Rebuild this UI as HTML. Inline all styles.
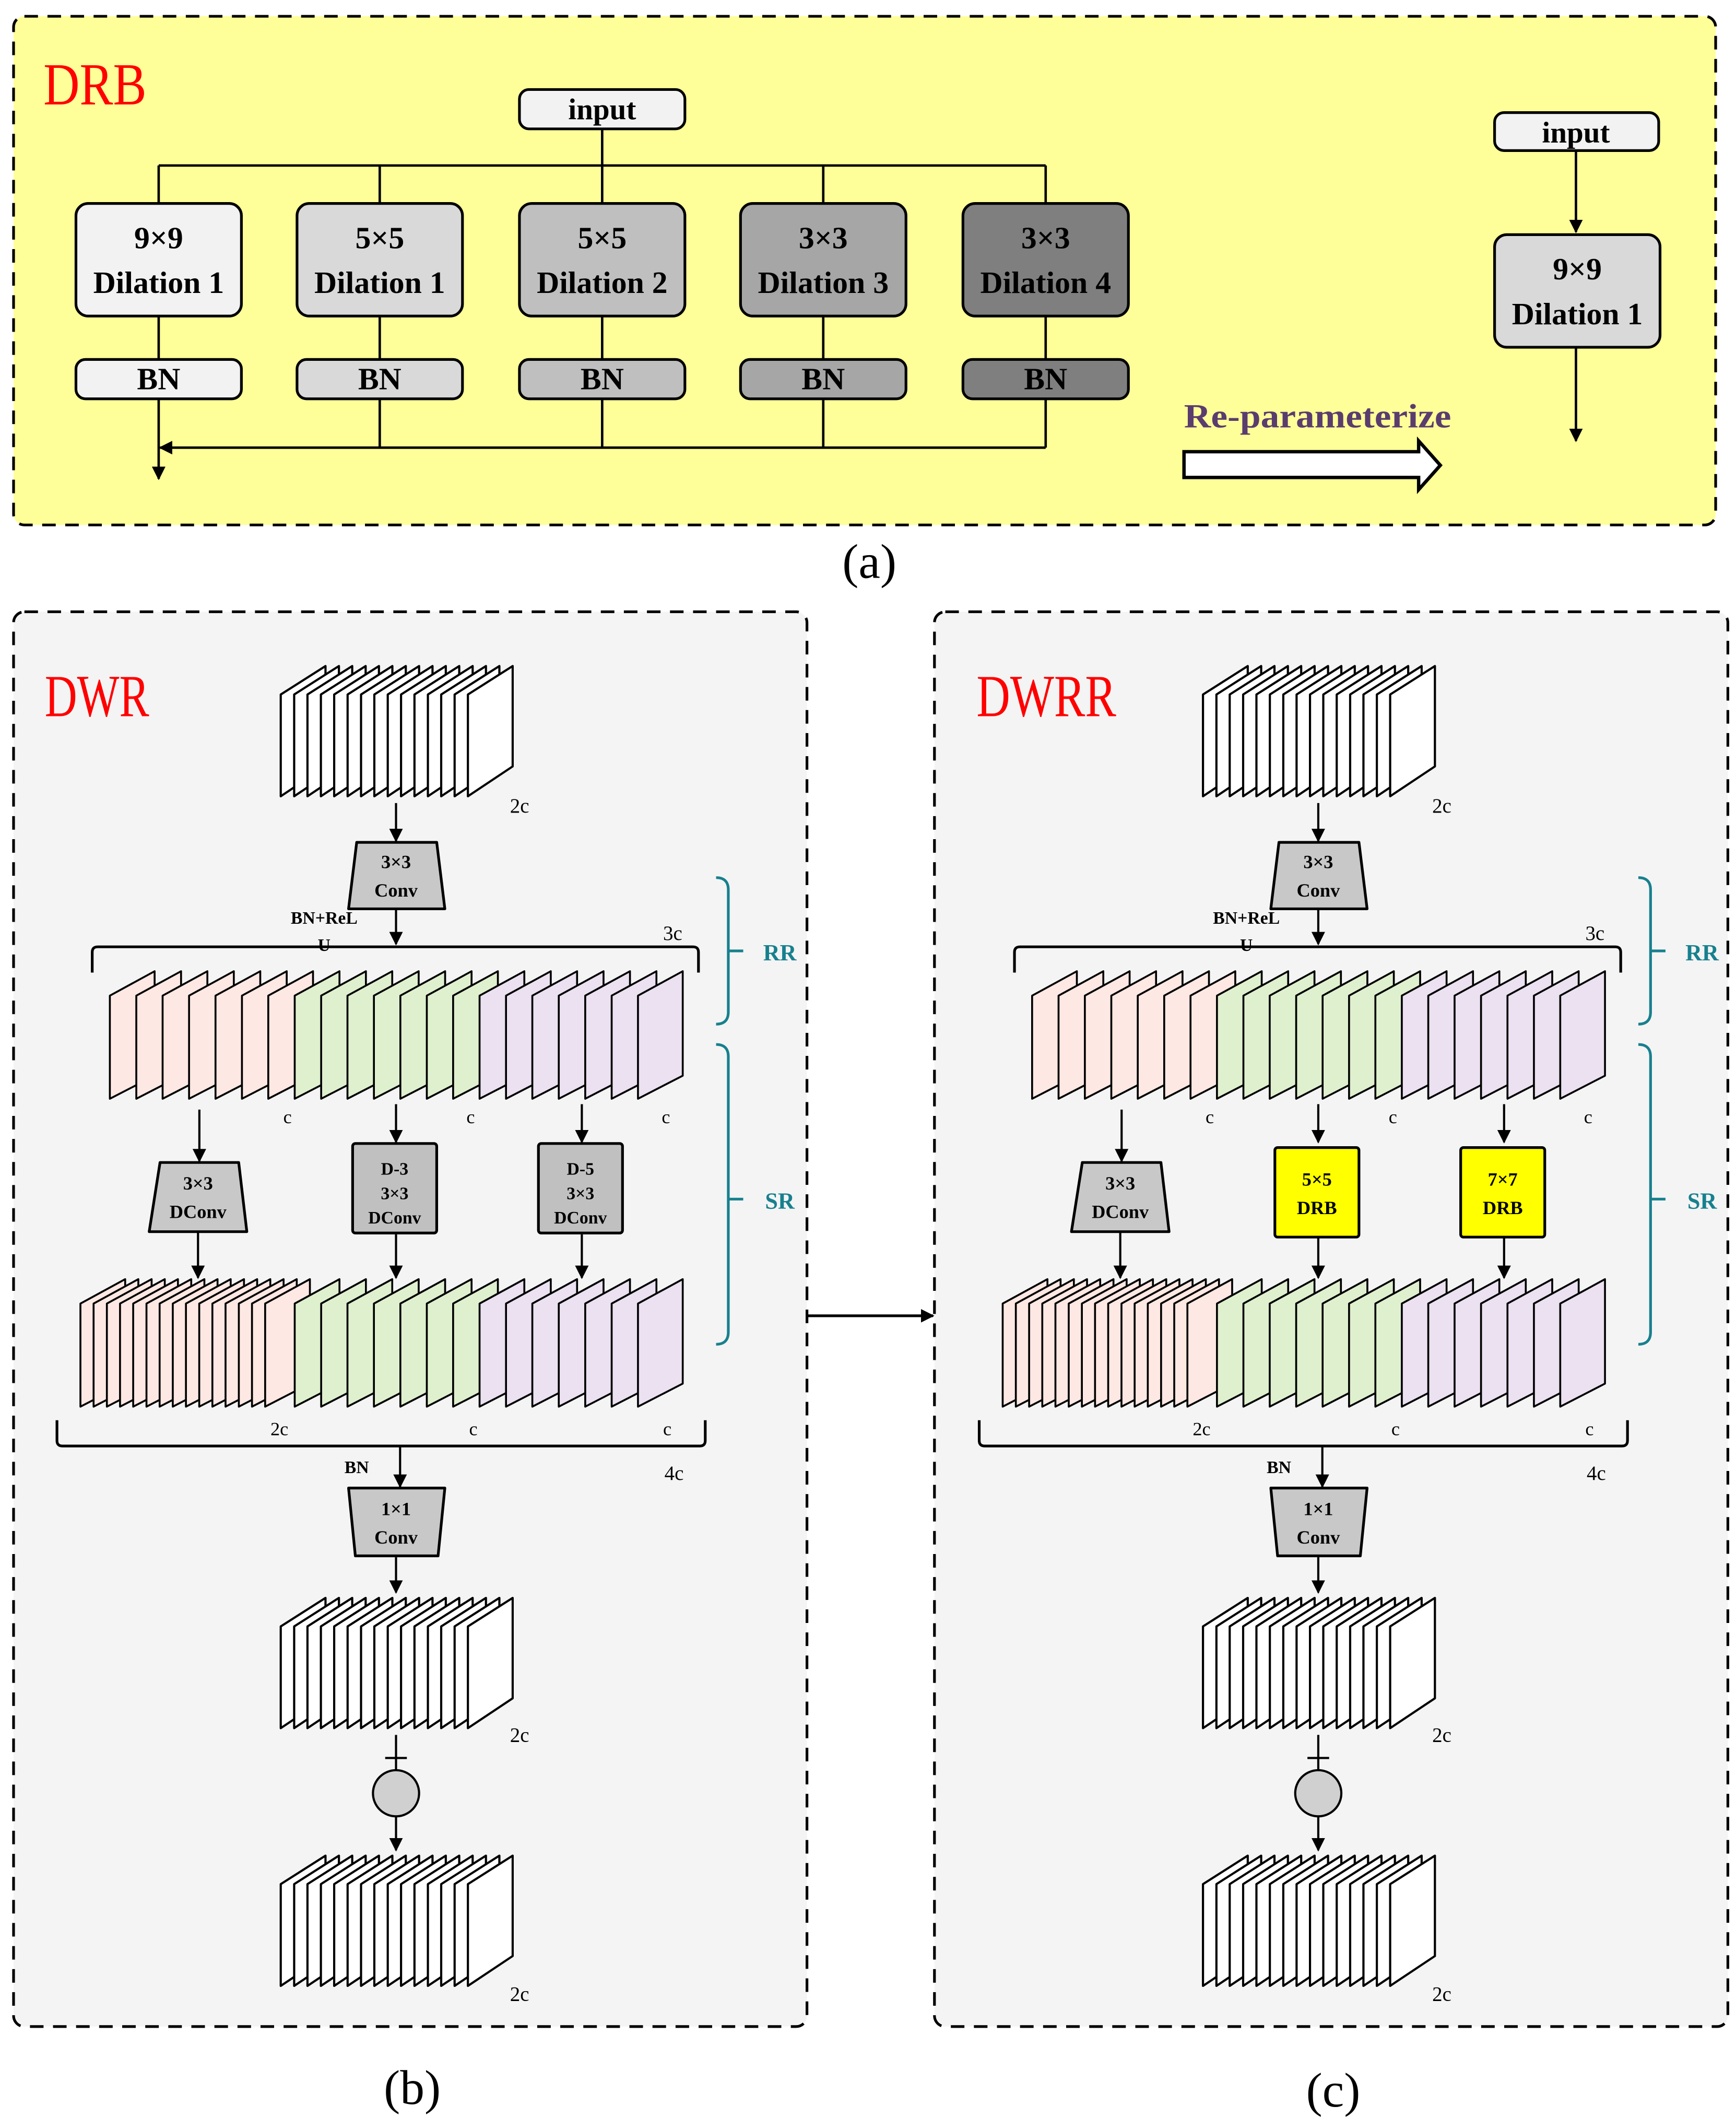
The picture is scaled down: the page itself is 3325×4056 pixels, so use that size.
<!DOCTYPE html>
<html><head><meta charset="utf-8"><style>
html,body{margin:0;padding:0;background:#fff;}
svg{display:block;}
text{font-family:"Liberation Serif",serif;}
</style></head><body>
<svg width="3325" height="4056" viewBox="0 0 1280 1561.4" xmlns="http://www.w3.org/2000/svg">
<defs>
<marker id="ah" markerUnits="userSpaceOnUse" markerWidth="10" markerHeight="12" refX="9" refY="5" orient="auto" viewBox="0 0 10 10">
<path d="M0,0 L10,5 L0,10 Z" fill="#000"/></marker>
<path id="ws" d="M0,0 V-75 L33,-96 V-22 Z" fill="#fff" stroke="#000" stroke-width="1.6" stroke-linejoin="round"/>
<path id="pk" d="M0,0 V-76 L33,-94 V-17 Z" fill="#fde8e3" stroke="#000" stroke-width="1.4" stroke-linejoin="round"/>
<path id="gr" d="M0,0 V-76 L33,-94 V-17 Z" fill="#dff0cf" stroke="#000" stroke-width="1.4" stroke-linejoin="round"/>
<path id="pu" d="M0,0 V-76 L33,-94 V-17 Z" fill="#ebe1f1" stroke="#000" stroke-width="1.4" stroke-linejoin="round"/>
<g id="wstack">
<use href="#ws" x="207"/><use href="#ws" x="216.9"/><use href="#ws" x="226.7"/><use href="#ws" x="236.6"/><use href="#ws" x="246.4"/><use href="#ws" x="256.3"/><use href="#ws" x="266.2"/><use href="#ws" x="276"/><use href="#ws" x="285.9"/><use href="#ws" x="295.7"/><use href="#ws" x="305.6"/><use href="#ws" x="315.5"/><use href="#ws" x="325.3"/><use href="#ws" x="335.2"/><use href="#ws" x="345"/>
</g>
<g id="common">
<use href="#wstack" y="587"/>
<text x="376" y="599" font-size="15">2c</text>
<line x1="292" y1="592" x2="292" y2="620" stroke="#000" stroke-width="1.6" marker-end="url(#ah)"/>
<path d="M263,621 H322 L328,670 H257 Z" fill="#c8c8c8" stroke="#000" stroke-width="2" stroke-linejoin="round"/>
<text x="292" y="640" font-size="14" font-weight="bold" text-anchor="middle">3×3</text>
<text x="292" y="661" font-size="14" font-weight="bold" text-anchor="middle">Conv</text>
<text x="239" y="681" font-size="13" font-weight="bold" text-anchor="middle">BN+ReL</text>
<text x="239" y="701" font-size="13" font-weight="bold" text-anchor="middle">U</text>
<line x1="292" y1="670" x2="292" y2="696" stroke="#000" stroke-width="1.6" marker-end="url(#ah)"/>
<path d="M68,717 V702 Q68,698 72,698 H511 Q515,698 515,702 V717" fill="none" stroke="#000" stroke-width="2"/>
<text x="496" y="693" font-size="15" text-anchor="middle">3c</text>
<!-- top colored row -->
<g transform="translate(0,810)">
<use href="#pk" x="81"/><use href="#pk" x="100.5"/><use href="#pk" x="119.9"/><use href="#pk" x="139.4"/><use href="#pk" x="158.9"/><use href="#pk" x="178.4"/><use href="#pk" x="197.8"/>
<use href="#gr" x="217.3"/><use href="#gr" x="236.8"/><use href="#gr" x="256.2"/><use href="#gr" x="275.7"/><use href="#gr" x="295.2"/><use href="#gr" x="314.7"/><use href="#gr" x="334.1"/>
<use href="#pu" x="353.6"/><use href="#pu" x="373.1"/><use href="#pu" x="392.5"/><use href="#pu" x="412"/><use href="#pu" x="431.5"/><use href="#pu" x="451"/><use href="#pu" x="470.4"/>
</g>
<text x="212" y="828" font-size="14" text-anchor="middle">c</text>
<text x="347" y="828" font-size="14" text-anchor="middle">c</text>
<text x="491" y="828" font-size="14" text-anchor="middle">c</text>
<line x1="147" y1="818" x2="147" y2="856" stroke="#000" stroke-width="1.6" marker-end="url(#ah)"/>
<line x1="146" y1="908" x2="146" y2="942" stroke="#000" stroke-width="1.6" marker-end="url(#ah)"/>
<line x1="292" y1="814" x2="292" y2="842" stroke="#000" stroke-width="1.6" marker-end="url(#ah)"/>
<line x1="292" y1="910" x2="292" y2="942" stroke="#000" stroke-width="1.6" marker-end="url(#ah)"/>
<line x1="429" y1="814" x2="429" y2="842" stroke="#000" stroke-width="1.6" marker-end="url(#ah)"/>
<line x1="429" y1="910" x2="429" y2="942" stroke="#000" stroke-width="1.6" marker-end="url(#ah)"/>
<!-- bottom colored row -->
<g transform="translate(0,1037)">
<use href="#pk" x="59.3"/><use href="#pk" x="69"/><use href="#pk" x="78.8"/><use href="#pk" x="88.5"/><use href="#pk" x="98.2"/><use href="#pk" x="108"/><use href="#pk" x="117.7"/><use href="#pk" x="127.4"/><use href="#pk" x="137.1"/><use href="#pk" x="146.9"/><use href="#pk" x="156.6"/><use href="#pk" x="166.3"/><use href="#pk" x="176.1"/><use href="#pk" x="185.8"/><use href="#pk" x="195.5"/>
<use href="#gr" x="217.3"/><use href="#gr" x="236.8"/><use href="#gr" x="256.2"/><use href="#gr" x="275.7"/><use href="#gr" x="295.2"/><use href="#gr" x="314.7"/><use href="#gr" x="334.1"/>
<use href="#pu" x="353.6"/><use href="#pu" x="373.1"/><use href="#pu" x="392.5"/><use href="#pu" x="412"/><use href="#pu" x="431.5"/><use href="#pu" x="451"/><use href="#pu" x="470.4"/>
</g>
<text x="206" y="1058" font-size="14" text-anchor="middle">2c</text>
<text x="349" y="1058" font-size="14" text-anchor="middle">c</text>
<text x="492" y="1058" font-size="14" text-anchor="middle">c</text>
<path d="M42,1047 V1062 Q42,1066 46,1066 H516 Q520,1066 520,1062 V1047" fill="none" stroke="#000" stroke-width="2"/>
<text x="497" y="1091" font-size="15" text-anchor="middle">4c</text>
<text x="263" y="1086" font-size="13" font-weight="bold" text-anchor="middle">BN</text>
<line x1="295" y1="1066" x2="295" y2="1096" stroke="#000" stroke-width="1.6" marker-end="url(#ah)"/>
<path d="M257,1097 H328 L323,1147 H262 Z" fill="#c8c8c8" stroke="#000" stroke-width="2" stroke-linejoin="round"/>
<text x="292" y="1117" font-size="14" font-weight="bold" text-anchor="middle">1×1</text>
<text x="292" y="1138" font-size="14" font-weight="bold" text-anchor="middle">Conv</text>
<line x1="292" y1="1148" x2="292" y2="1174" stroke="#000" stroke-width="1.6" marker-end="url(#ah)"/>
<use href="#wstack" y="1274"/>
<text x="376" y="1284" font-size="15">2c</text>
<line x1="292" y1="1279" x2="292" y2="1305" stroke="#000" stroke-width="1.6"/>
<line x1="284" y1="1296" x2="300" y2="1296" stroke="#000" stroke-width="1.6"/>
<circle cx="292" cy="1322" r="17" fill="#d0d0d0" stroke="#000" stroke-width="1.6"/>
<line x1="292" y1="1339" x2="292" y2="1364" stroke="#000" stroke-width="1.6" marker-end="url(#ah)"/>
<use href="#wstack" y="1464"/>
<text x="376" y="1475" font-size="15">2c</text>
<!-- teal braces -->
<path d="M528,647 Q537,647 537,656 V746 Q537,755 528,755 M537,701 H548" fill="none" stroke="#17808e" stroke-width="2"/>
<path d="M528,770 Q537,770 537,779 V982 Q537,991 528,991 M537,884 H548" fill="none" stroke="#17808e" stroke-width="2"/>
<text x="575" y="708" font-size="17" font-weight="bold" fill="#17808e" text-anchor="middle">RR</text>
<text x="575" y="891" font-size="17" font-weight="bold" fill="#17808e" text-anchor="middle">SR</text>
<!-- DConv trapezoid -->
<path d="M118,857 H176 L182,908 H110 Z" fill="#c8c8c8" stroke="#000" stroke-width="2" stroke-linejoin="round"/>
<text x="146" y="877" font-size="14" font-weight="bold" text-anchor="middle">3×3</text>
<text x="146" y="898" font-size="14" font-weight="bold" text-anchor="middle">DConv</text>
</g>
</defs>

<!-- panel (a) -->
<rect x="10" y="12" width="1255" height="375" rx="8" fill="#ffff99" stroke="#000" stroke-width="2" stroke-dasharray="10,7"/>
<text x="32" y="77" font-size="44" fill="#ff0000" textLength="76" lengthAdjust="spacingAndGlyphs">DRB</text>
<rect x="383" y="66" width="122" height="29" rx="7" fill="#f2f2f2" stroke="#000" stroke-width="2"/>
<text x="444" y="88" font-size="22" font-weight="bold" text-anchor="middle">input</text>
<g stroke="#000" stroke-width="1.8" fill="none">
<line x1="444" y1="95" x2="444" y2="150"/>
<line x1="117" y1="122" x2="771" y2="122"/>
<line x1="117" y1="122" x2="117" y2="150"/><line x1="280" y1="122" x2="280" y2="150"/><line x1="607" y1="122" x2="607" y2="150"/><line x1="771" y1="122" x2="771" y2="150"/>
<line x1="117" y1="233" x2="117" y2="265"/><line x1="280" y1="233" x2="280" y2="265"/><line x1="444" y1="233" x2="444" y2="265"/><line x1="607" y1="233" x2="607" y2="265"/><line x1="771" y1="233" x2="771" y2="265"/>
<line x1="280" y1="294" x2="280" y2="330"/><line x1="444" y1="294" x2="444" y2="330"/><line x1="607" y1="294" x2="607" y2="330"/><line x1="771" y1="294" x2="771" y2="330"/>
<line x1="771" y1="330" x2="118" y2="330" marker-end="url(#ah)"/>
<line x1="117" y1="294" x2="117" y2="353" marker-end="url(#ah)"/>
</g>
<g stroke="#000" stroke-width="2">
<rect x="56" y="150" width="122" height="83" rx="9" fill="#f2f2f2"/>
<rect x="219" y="150" width="122" height="83" rx="9" fill="#d9d9d9"/>
<rect x="383" y="150" width="122" height="83" rx="9" fill="#bfbfbf"/>
<rect x="546" y="150" width="122" height="83" rx="9" fill="#a6a6a6"/>
<rect x="710" y="150" width="122" height="83" rx="9" fill="#7f7f7f"/>
<rect x="56" y="265" width="122" height="29" rx="7" fill="#f2f2f2"/>
<rect x="219" y="265" width="122" height="29" rx="7" fill="#d9d9d9"/>
<rect x="383" y="265" width="122" height="29" rx="7" fill="#bfbfbf"/>
<rect x="546" y="265" width="122" height="29" rx="7" fill="#a6a6a6"/>
<rect x="710" y="265" width="122" height="29" rx="7" fill="#7f7f7f"/>
</g>
<g font-size="23" font-weight="bold" text-anchor="middle">
<text x="117" y="183">9×9</text><text x="117" y="216">Dilation 1</text>
<text x="280" y="183">5×5</text><text x="280" y="216">Dilation 1</text>
<text x="444" y="183">5×5</text><text x="444" y="216">Dilation 2</text>
<text x="607" y="183">3×3</text><text x="607" y="216">Dilation 3</text>
<text x="771" y="183">3×3</text><text x="771" y="216">Dilation 4</text>
<text x="117" y="287">BN</text><text x="280" y="287">BN</text><text x="444" y="287">BN</text><text x="607" y="287">BN</text><text x="771" y="287">BN</text>
</g>
<rect x="1102" y="83" width="121" height="28" rx="7" fill="#f2f2f2" stroke="#000" stroke-width="2"/>
<text x="1162" y="105" font-size="22" font-weight="bold" text-anchor="middle">input</text>
<line x1="1162" y1="111" x2="1162" y2="171" stroke="#000" stroke-width="1.8" marker-end="url(#ah)"/>
<rect x="1102" y="173" width="122" height="83" rx="9" fill="#d9d9d9" stroke="#000" stroke-width="2"/>
<text x="1163" y="206" font-size="23" font-weight="bold" text-anchor="middle">9×9</text>
<text x="1163" y="239" font-size="23" font-weight="bold" text-anchor="middle">Dilation 1</text>
<line x1="1162" y1="256" x2="1162" y2="325" stroke="#000" stroke-width="1.8" marker-end="url(#ah)"/>
<text x="873" y="315" font-size="25" font-weight="bold" fill="#5a3c6e" textLength="197" lengthAdjust="spacingAndGlyphs">Re-parameterize</text>
<path d="M873,333 H1046 V325 L1062,343 L1046,361 V352 H873 Z" fill="#fff" stroke="#000" stroke-width="2.5" stroke-linejoin="miter"/>
<text x="641" y="426" font-size="36" text-anchor="middle">(a)</text>

<!-- panel (b) -->
<rect x="10" y="451" width="585" height="1043" rx="8" fill="#f4f4f4" stroke="#000" stroke-width="2" stroke-dasharray="10,7"/>
<text x="33" y="528" font-size="44" fill="#ff0000" textLength="77" lengthAdjust="spacingAndGlyphs">DWR</text>
<use href="#common"/>
<rect x="260" y="843" width="62" height="66" rx="2" fill="#c0c0c0" stroke="#000" stroke-width="2"/>
<text x="291" y="866" font-size="13" font-weight="bold" text-anchor="middle">D-3</text>
<text x="291" y="884" font-size="13" font-weight="bold" text-anchor="middle">3×3</text>
<text x="291" y="902" font-size="13" font-weight="bold" text-anchor="middle">DConv</text>
<rect x="397" y="843" width="62" height="66" rx="2" fill="#c0c0c0" stroke="#000" stroke-width="2"/>
<text x="428" y="866" font-size="13" font-weight="bold" text-anchor="middle">D-5</text>
<text x="428" y="884" font-size="13" font-weight="bold" text-anchor="middle">3×3</text>
<text x="428" y="902" font-size="13" font-weight="bold" text-anchor="middle">DConv</text>
<text x="304" y="1551" font-size="36" text-anchor="middle">(b)</text>

<line x1="595" y1="970" x2="688" y2="970" stroke="#000" stroke-width="2" marker-end="url(#ah)"/>

<!-- panel (c) -->
<rect x="689" y="451" width="585" height="1043" rx="8" fill="#f4f4f4" stroke="#000" stroke-width="2" stroke-dasharray="10,7"/>
<text x="720" y="528" font-size="44" fill="#ff0000" textLength="103" lengthAdjust="spacingAndGlyphs">DWRR</text>
<use href="#common" x="680"/>
<rect x="940" y="846" width="62" height="66" rx="2" fill="#ffff00" stroke="#000" stroke-width="2"/>
<text x="971" y="874" font-size="14" font-weight="bold" text-anchor="middle">5×5</text>
<text x="971" y="895" font-size="14" font-weight="bold" text-anchor="middle">DRB</text>
<rect x="1077" y="846" width="62" height="66" rx="2" fill="#ffff00" stroke="#000" stroke-width="2"/>
<text x="1108" y="874" font-size="14" font-weight="bold" text-anchor="middle">7×7</text>
<text x="1108" y="895" font-size="14" font-weight="bold" text-anchor="middle">DRB</text>
<text x="983" y="1553" font-size="36" text-anchor="middle">(c)</text>
</svg>
</body></html>
